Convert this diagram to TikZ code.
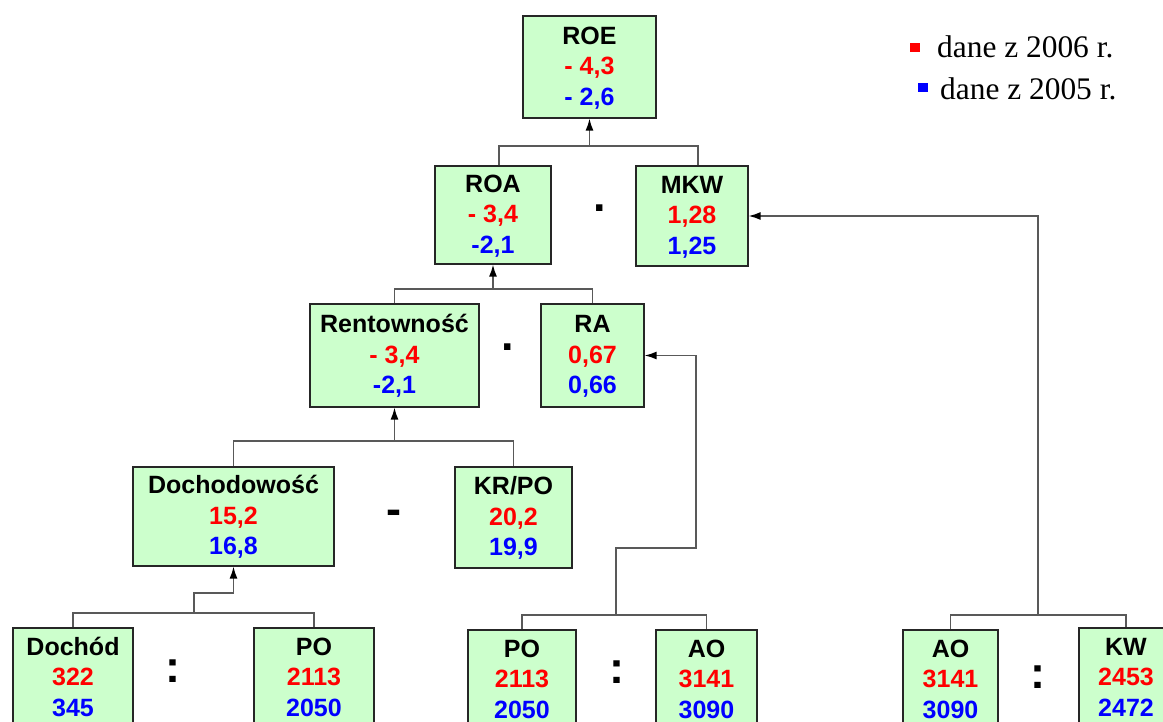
\documentclass[tikz,border=0pt]{standalone}
\usepackage{fontspec}
\setmainfont{Liberation Serif}
\setsansfont{Liberation Sans}
\usetikzlibrary{arrows.meta}
\definecolor{boxgreen}{HTML}{CCFFCC}
\newcommand{\kfont}{\sffamily\bfseries\fontsize{25}{30.5}\selectfont}
\newcommand{\opfont}{\sffamily\bfseries\fontsize{45}{45}\selectfont}
\newcommand{\kend}{\rule[-5.5pt]{0pt}{5.5pt}}

\begin{document}
\begin{tikzpicture}[x=1pt,y=-1pt,
    kbox/.style={draw=black!85,line width=1.2pt,fill=boxgreen,align=center,inner sep=0pt,minimum height=100pt,font=\kfont},
    conn/.style={draw=black!65,line width=1.5pt},
    op/.style={inner sep=0pt,font=\opfont},
    legend/.style={anchor=base west,inner sep=0pt,font=\fontsize{31.4}{36}\selectfont},
    >={Latex[length=12pt,width=8pt,color=black]}]
  \clip (0,0) rectangle (1163,722);
  \node[kbox,minimum width=133pt,minimum height=102pt] (roe) at (589.5,67) {\strut ROE\\\textcolor{red}{- 4,3}\\\textcolor{blue}{- 2,6}\kend};
  \node[kbox,minimum width=116pt,minimum height=98pt] (roa) at (493,215) {\strut ROA\\\textcolor{red}{- 3,4}\\\textcolor{blue}{-2,1}\kend};
  \node[kbox,minimum width=112pt] (mkw) at (692,216) {\strut MKW\\\textcolor{red}{1,28}\\\textcolor{blue}{1,25}\kend};
  \node[kbox,minimum width=169pt,minimum height=103pt] (rent) at (394.5,355.5) {\strut Rentowność\\\textcolor{red}{- 3,4}\\\textcolor{blue}{-2,1}\kend};
  \node[kbox,minimum width=103pt,minimum height=103pt] (ra) at (592.5,355.5) {\strut RA\\\textcolor{red}{0,67}\\\textcolor{blue}{0,66}\kend};
  \node[kbox,minimum width=201pt,minimum height=99pt] (doch) at (233.5,516.5) {\strut Dochodowość\\\textcolor{red}{15,2}\\\textcolor{blue}{16,8}\kend};
  \node[kbox,minimum width=117pt,minimum height=101pt] (krpo) at (513.5,517.5) {\strut KR/PO\\\textcolor{red}{20,2}\\\textcolor{blue}{19,9}\kend};
  \node[kbox,minimum width=120pt] (dochod) at (73,678) {\strut Dochód\\\textcolor{red}{322}\\\textcolor{blue}{345}\kend};
  \node[kbox,minimum width=120pt] (poa) at (314,678) {\strut PO\\\textcolor{red}{2113}\\\textcolor{blue}{2050}\kend};
  \node[kbox,minimum width=108pt] (pob) at (522,680) {\strut PO\\\textcolor{red}{2113}\\\textcolor{blue}{2050}\kend};
  \node[kbox,minimum width=101pt] (aoa) at (706.5,680) {\strut AO\\\textcolor{red}{3141}\\\textcolor{blue}{3090}\kend};
  \node[kbox,minimum width=95pt] (aob) at (950.5,680) {\strut AO\\\textcolor{red}{3141}\\\textcolor{blue}{3090}\kend};
  \node[kbox,minimum width=94pt] (kw) at (1126,678) {\strut KW\\\textcolor{red}{2453}\\\textcolor{blue}{2472}\kend};

  \node[op] (d1) at (600,208) {.};
  \node[op] (d2) at (508,347) {.};
  \node[op] (m1) at (394,517) {-};
  \node[op] (c1) at (173,671) {:};
  \node[op] (c2) at (617,672) {:};
  \node[op] (c3) at (1038,677) {:};

  \coordinate (j1) at (589.5,146);
  \draw[conn] ([xshift=6pt]roa.north) |- (j1) -| ([xshift=6pt]mkw.north);
  \draw[conn,->] (j1) -- (roe.south);
  \coordinate (j2) at (493,289);
  \draw[conn] (rent.north) |- (j2) -| (ra.north);
  \draw[conn,->] (j2) -- (roa.south);
  \coordinate (j3) at (394.5,441);
  \draw[conn] (doch.north) |- (j3) -| (krpo.north);
  \draw[conn,->] (j3) -- (rent.south);
  \coordinate (j4) at (194,613);
  \coordinate (k4) at (194,593);
  \draw[conn] (dochod.north) |- (j4) -| (poa.north);
  \draw[conn,->] (j4) -- (k4) -| (doch.south);
  \coordinate (j5) at (616,615);
  \coordinate (k5) at (696,548);
  \draw[conn] (pob.north) |- (j5) -| (aoa.north);
  \draw[conn,->] (j5) |- (k5) |- (ra.east);
  \coordinate (j6) at (1038,615);
  \draw[conn] (aob.north) |- (j6) -| (kw.north);
  \draw[conn,->] (j6) |- (mkw.east);

  \fill[red] (910,43) rectangle (920,52);
  \fill[blue] (918,83) rectangle (928,92);
  \node[legend] (l1) at (937,58) {dane z 2006 r.};
  \node[legend] (l2) at (940,100) {dane z 2005 r.};
\end{tikzpicture}
\end{document}
